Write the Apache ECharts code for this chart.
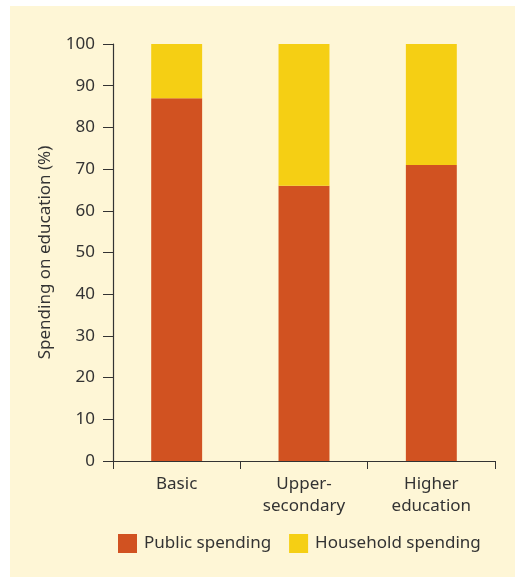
<!DOCTYPE html>
<html>
<head>
<meta charset="utf-8">
<script src="https://cdn.jsdelivr.net/npm/echarts@6/dist/echarts.min.js"></script>
<style>
html,body{margin:0;padding:0;background:#fff;}
#wrap{position:absolute;left:10px;top:6px;width:505px;height:571px;background:#fef6d6;}
#chart{position:absolute;left:0;top:0;width:515px;height:577px;}
</style>
</head>
<body>
<div id="wrap"></div>
<div id="chart"></div>
<script>
var categories=['Basic','Upper-\nsecondary','Higher\neducation'];
var publicSpending=[87,66,71];
var householdSpending=[13,34,29];
var yTicks=[0,100,10]; // min, max, interval

var textColor='#333';
var font='Noto Sans';

var myChart=echarts.init(document.getElementById('chart'));
var option={
    backgroundColor:'transparent',
    grid:{left:113,right:20,top:44,bottom:116},
    legend:{
        top:529,
        left:113,
        itemWidth:19,
        itemHeight:19,
        itemGap:18,
        icon:'rect',
        textStyle:{color:textColor,fontSize:17,fontFamily:font,padding:[0,0,0,2]},
        data:['Public spending','Household spending']
    },
    xAxis:{
        type:'category',
        data:categories,
        axisLine:{lineStyle:{color:textColor,width:1.2}},
        axisTick:{show:true,length:8,lineStyle:{color:textColor}},
        axisLabel:{color:textColor,fontSize:17,fontFamily:font,margin:12,lineHeight:22}
    },
    yAxis:{
        type:'value',
        min:yTicks[0],
        max:yTicks[1],
        interval:yTicks[2],
        name:'Spending on education (%)',
        nameLocation:'middle',
        nameGap:59,
        nameTextStyle:{color:textColor,fontSize:17,fontFamily:font},
        splitLine:{show:false},
        axisLine:{show:true,lineStyle:{color:textColor,width:1.2}},
        axisTick:{show:true,length:10,lineStyle:{color:textColor}},
        axisLabel:{color:textColor,fontSize:17,fontFamily:font,margin:18}
    },
    series:[
        {
            name:'Public spending',
            type:'bar',
            stack:'total',
            barWidth:'40%',
            itemStyle:{color:'#d15221'},
            data:publicSpending
        },
        {
            name:'Household spending',
            type:'bar',
            stack:'total',
            barWidth:'40%',
            itemStyle:{color:'#f5cf14'},
            data:householdSpending
        }
    ]
};
myChart.setOption(option);
</script>
</body>
</html>
